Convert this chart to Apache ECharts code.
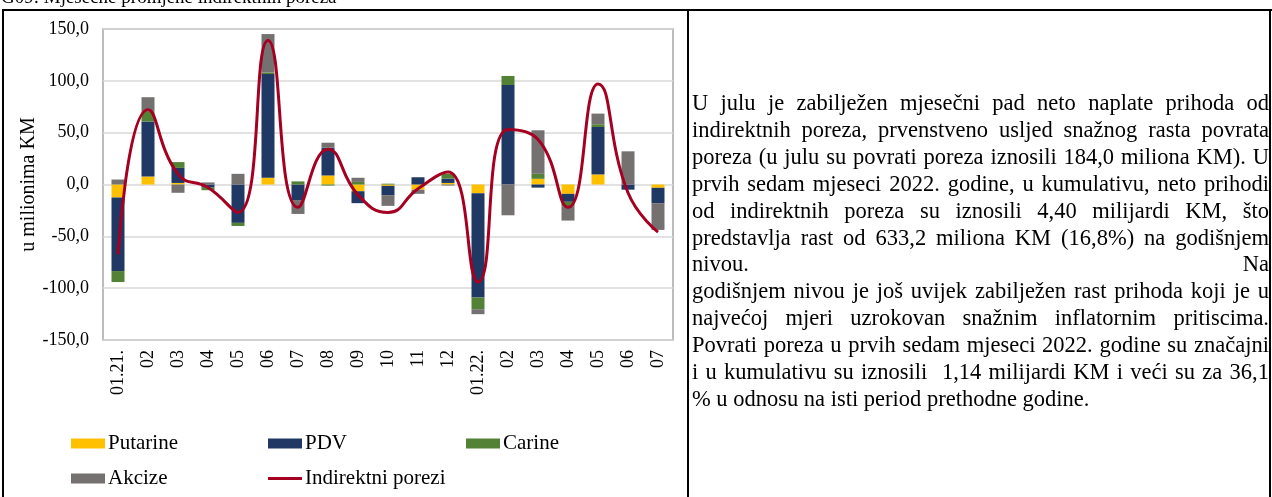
<!DOCTYPE html>
<html>
<head>
<meta charset="utf-8">
<script src="https://cdn.jsdelivr.net/npm/echarts@6/dist/echarts.min.js"></script>
<style>
  html, body { margin: 0; padding: 0; background: #fff; }
  #wrap { position: relative; width: 1272px; height: 497px; overflow: hidden; }
  #chart { position: absolute; left: 0; top: 0; width: 1272px; height: 497px; }
  .ln { position: absolute; background: #000; }
  #title { position: absolute; left: 1px; top: -13px; font-family: 'Liberation Serif', 'Times New Roman', serif; font-size: 19px; line-height: 20px; color: #000; white-space: nowrap; }
  #txt { position: absolute; left: 692px; top: 90px; width: 577px; font-family: 'Liberation Serif', 'Times New Roman', serif; font-size: 22.5px; line-height: 26.9px; color: #000; text-align: justify; }
  #txt .a { text-align: justify; text-align-last: justify; }
</style>
</head>
<body>
<div id="wrap">
  <div id="chart"></div>
  <div id="title">G09: Mjesečne promjene indirektnih poreza</div>
  <div class="ln" style="left:2px; top:9px; width:1270px; height:2px;"></div>
  <div class="ln" style="left:2px; top:9px; width:2px; height:490px;"></div>
  <div class="ln" style="left:687px; top:9px; width:2px; height:490px;"></div>
  <div class="ln" style="left:1269px; top:9px; width:2px; height:490px;"></div>
  <div id="txt">
    <div class="a">U julu je zabilježen mjesečni pad neto naplate prihoda od indirektnih poreza, prvenstveno usljed snažnog rasta povrata poreza (u julu su povrati poreza iznosili 184,0 miliona KM). U prvih sedam mjeseci 2022. godine, u kumulativu, neto prihodi od indirektnih poreza su iznosili 4,40 milijardi KM, što predstavlja rast od 633,2 miliona KM (16,8%) na godišnjem nivou. Na</div>
    <div>godišnjem nivou je još uvijek zabilježen rast prihoda koji je u najvećoj mjeri uzrokovan snažnim inflatornim pritiscima. Povrati poreza u prvih sedam mjeseci 2022. godine su značajni i u kumulativu su iznosili&nbsp; 1,14 milijardi KM i veći su za 36,1 % u odnosu na isti period prethodne godine.</div>
  </div>
</div>
<script>
const categories = ['01.21.', '02', '03', '04', '05', '06', '07', '08', '09', '10', '11', '12', '01.22.', '02', '03', '04', '05', '06', '07'];
const putarine = [-12.5, 7.7, 1.5, 0, 0, 6.5, 0, 8.7, -6.5, -1.3, -5, 1.5, -8.4, 0, 5.5, -9, 9.7, 0, -3.2];
const pdv = [-71, 53, 14.5, -3, -37, 100, -15, 26.8, -11.5, -9, 7, 4.2, -100.6, 96, -3, -7.7, 45.8, -5, -14.8];
const carine = [-10.6, 10, 5.6, -2.5, -3, 1.6, 3, -1, 2.5, 0.8, 0, 4.5, -11.3, 8.7, 4.8, -4.2, 2.6, 0, 0];
const akcize = [4.8, 13.5, -8, 2, 10.3, 37, -13.4, 4.8, 4, -10.3, -4, -1, -4.8, -29.7, 42, -13.9, 10.3, 32, -25.8];
const indirektni = [-67.5, 72, 10, -3, -27, 139, -22, 34, -10, -27, -4, 12, -94, 53, 43.5, -22, 97, -8, -46];
const yTicks = { min: -150, max: 150, interval: 50 };

const FONT = "'Liberation Serif', 'Times New Roman', serif";
const colors = { putarine: '#FFC000', pdv: '#203864', carine: '#538135', akcize: '#767171', line: '#A50021' };

const chart = echarts.init(document.getElementById('chart'), null, { renderer: 'canvas' });

function barSeries(name, data, color) {
  return {
    name: name, type: 'bar', stack: 'total', data: data,
    barWidth: 13,
    itemStyle: { color: color },
    emphasis: { disabled: true }
  };
}

function legendAt(name, left, top, isLine) {
  return {
    data: [{ name: name, icon: 'rect', itemStyle: isLine ? { color: colors.line } : undefined }],
    left: left, top: top, padding: 0,
    itemWidth: 34, itemHeight: isLine ? 3 : 10, itemGap: 0,
    selectedMode: false,
    textStyle: { fontFamily: FONT, fontSize: 21, color: '#000', padding: [0, 0, 0, -2] }
  };
}

chart.setOption({
  animation: false,
  grid: { left: 103, top: 29, width: 570, height: 311, show: true, borderColor: '#A6A6A6', borderWidth: 1.5, containLabel: false },
  legend: [
    legendAt('Putarine', 71, 433, false),
    legendAt('PDV', 268, 433, false),
    legendAt('Carine', 466, 433, false),
    legendAt('Akcize', 71, 468, false),
    legendAt('Indirektni porezi', 268, 468, true)
  ],
  xAxis: {
    type: 'category', data: categories,
    axisLine: { show: false }, axisTick: { show: false },
    axisLabel: { rotate: 90, margin: 10, interval: 0, fontFamily: FONT, fontSize: 18, color: '#000' }
  },
  yAxis: {
    type: 'value', min: yTicks.min, max: yTicks.max, interval: yTicks.interval,
    name: 'u milionima KM', nameLocation: 'middle', nameGap: 56, nameRotate: 90,
    nameTextStyle: { fontFamily: FONT, fontSize: 20, color: '#000' },
    axisLine: { show: false }, axisTick: { show: false },
    axisLabel: { margin: 14, fontFamily: FONT, fontSize: 18, color: '#000', formatter: v => v.toFixed(1).replace('.', ',') },
    splitLine: { lineStyle: { color: '#D9D9D9', width: 1.5 } }
  },
  series: [
    barSeries('Putarine', putarine, colors.putarine),
    barSeries('PDV', pdv, colors.pdv),
    barSeries('Carine', carine, colors.carine),
    barSeries('Akcize', akcize, colors.akcize),
    {
      name: 'Indirektni porezi', type: 'line', data: indirektni, smooth: 0.5,
      symbol: 'none', lineStyle: { color: colors.line, width: 3 }, itemStyle: { color: colors.line },
      z: 5, emphasis: { disabled: true }
    }
  ]
});
</script>
</body>
</html>
